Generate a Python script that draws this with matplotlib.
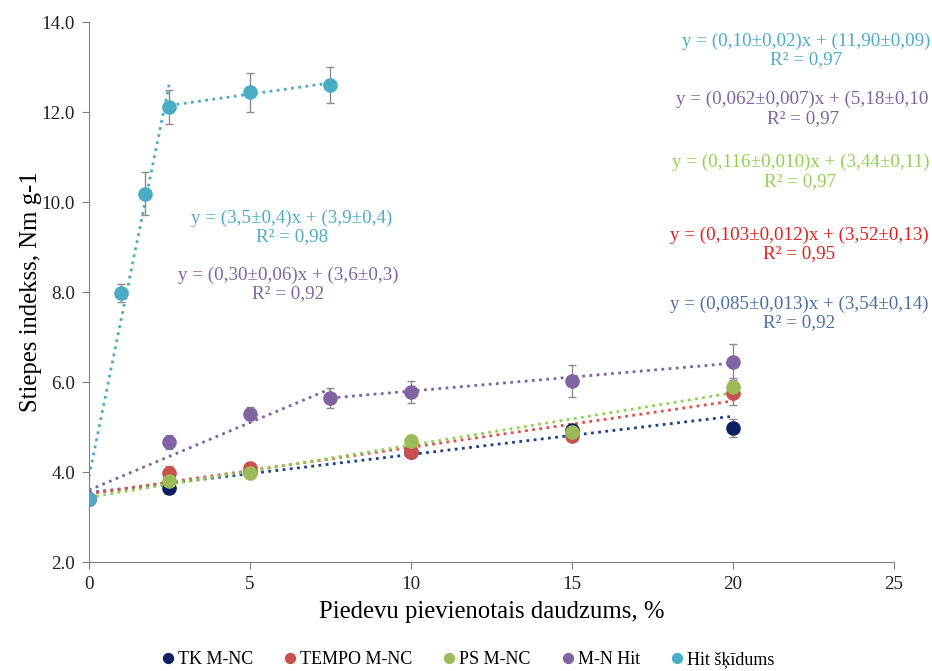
import numpy as np
import matplotlib.pyplot as plt

plt.rcParams['font.family'] = ['Liberation Serif', 'DejaVu Serif']

# measured data
x_std = [0, 2.5, 5, 10, 15, 20]
tk = [3.4, 3.64, 4.0, 4.45, 4.93, 4.98]
tk_err = [0.05, 0.08, 0.08, 0.1, 0.12, 0.2]
tempo = [3.4, 3.98, 4.08, 4.45, 4.8, 5.75]
tempo_err = [0.05, 0.15, 0.08, 0.12, 0.12, 0.25]
ps = [3.4, 3.79, 3.98, 4.68, 4.9, 5.88]
ps_err = [0.05, 0.1, 0.08, 0.15, 0.12, 0.2]
x_mn = [0, 2.5, 5, 7.5, 10, 15, 20]
mn_hit = [3.4, 4.67, 5.3, 5.65, 5.78, 6.02, 6.44]
mn_err = [0.05, 0.15, 0.15, 0.22, 0.25, 0.35, 0.4]
x_hit = [0, 1, 1.75, 2.5, 5, 7.5]
hit = [3.4, 7.99, 10.19, 12.11, 12.44, 12.61]
hit_err = [0.05, 0.2, 0.47, 0.38, 0.43, 0.4]

labels = ['TK M-NC', 'TEMPO M-NC', 'PS M-NC', 'M-N Hit', 'Hit šķīdums']
colors = ['#0b2161', '#c9504c', '#9bbb59', '#8064a2', '#4bacc6']

# trend lines: (colour, x start, x end, slope, intercept)
trends = [
    ('#1f3f8a', 0, 20, 0.085, 3.54),
    ('#e0504a', 0, 20, 0.103, 3.52),
    ('#92d050', 0, 20, 0.116, 3.44),
    ('#8064a2', 0, 7.5, 0.30, 3.6),
    ('#8064a2', 7.5, 20, 0.062, 5.18),
    ('#4bacc6', 0, 2.5, 3.5, 3.9),
    ('#4bacc6', 2.5, 7.5, 0.10, 11.90),
]

# equation labels: text, colour, x, y
eq_texts = [
    ('y = (0,10±0,02)x + (11,90±0,09)\nR² = 0,97', '#4bacc6', 22.27, 13.38),
    ('y = (0,062±0,007)x + (5,18±0,10\nR² = 0,97', '#8064a2', 22.17, 12.07),
    ('y = (0,116±0,010)x + (3,44±0,11)\nR² = 0,97', '#92d050', 22.1, 10.67),
    ('y = (0,103±0,012)x + (3,52±0,13)\nR² = 0,95', '#e02020', 22.05, 9.06),
    ('y = (0,085±0,013)x + (3,54±0,14)\nR² = 0,92', '#4a6fa5', 22.05, 7.53),
    ('y = (3,5±0,4)x + (3,9±0,4)\nR² = 0,98', '#4bacc6', 6.3, 9.44),
    ('y = (0,30±0,06)x + (3,6±0,3)\nR² = 0,92', '#8064a2', 6.18, 8.17),
]

fig = plt.figure(figsize=(9.32, 6.71), dpi=100)
ax = fig.add_axes([0.0955, 0.1624, 0.8635, 0.8046])

for c, x0, x1, k, b in trends:
    xx = np.array([x0, x1])
    ax.plot(xx, k * xx + b, ls=(0, (1, 1.6)), color=c, lw=2, zorder=2)

series = [(x_std, tk, tk_err), (x_std, tempo, tempo_err), (x_std, ps, ps_err),
          (x_mn, mn_hit, mn_err), (x_hit, hit, hit_err)]
for (xs, ys, es), lab, c in zip(series, labels, colors):
    ax.errorbar(xs, ys, yerr=es, fmt='none', ecolor='#8c8c8c', elinewidth=1,
                capsize=3, capthick=1, zorder=3)
    ax.plot(xs, ys, 'o', color=c, ms=9.5, label=lab, zorder=4)

for t, c, x, y in eq_texts:
    ax.text(x, y, t, color=c, fontsize=13.7, ha='center', va='center',
            linespacing=1.1)

ax.set_xlim(0, 25)
ax.set_ylim(2, 14)
ax.set_xticks([0, 5, 10, 15, 20, 25])
ax.set_yticks(np.arange(2, 14.1, 2))
ax.set_yticklabels(['%.1f' % v for v in np.arange(2, 14.1, 2)])
for s in ['top', 'right']:
    ax.spines[s].set_visible(False)
for s in ['left', 'bottom']:
    ax.spines[s].set_color('#808080')
ax.tick_params(colors='#808080', labelcolor='#222222', labelsize=13.8, length=5, pad=5)
ax.set_xlabel('Piedevu pievienotais daudzums, %', fontsize=17.8, labelpad=6)
ax.set_ylabel('Stiepes indekss, Nm g-1', fontsize=17.8, labelpad=0)

fig.legend(loc='lower center', bbox_to_anchor=(0.5, -0.02), ncol=5, frameon=False,
           fontsize=13, handletextpad=0.0, columnspacing=1.5, markerscale=0.75,
           handlelength=1.1)

fig.savefig('out.png', dpi=100)
